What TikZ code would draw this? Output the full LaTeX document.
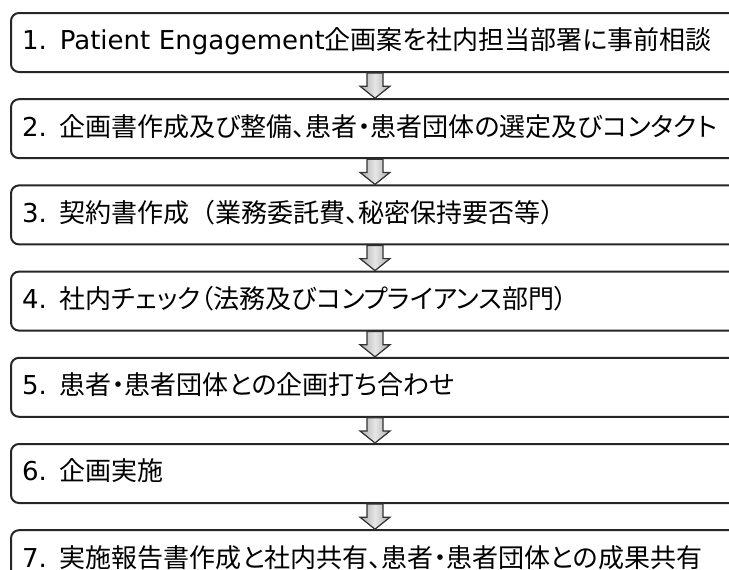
\documentclass[tikz,border=0pt]{standalone}
\usepackage{fontspec}
\setmainfont{DejaVu Sans}
\newfontfamily\jp[RawFeature=+palt]{Noto Sans CJK JP}
\newfontfamily\jpfull{Noto Sans CJK JP}
\usetikzlibrary{positioning,calc}

\begin{document}
\begin{tikzpicture}[
  stage box/.style={draw=black!85, line width=1pt, rounded corners=4pt, anchor=north west,
    minimum height=29.5pt, text width=353pt, inner xsep=5.5pt, inner ysep=0pt, align=left,
    text height=0.9em, text depth=0.17em, font=\fontsize{13pt}{15pt}\selectfont},
  down arrow/.style={draw=black!80, line width=0.6pt, line join=miter,
    left color=gray!65, right color=gray!65, middle color=gray!20}
]
\useasboundingbox (0,0) rectangle (364.5pt,-284.5pt);
\clip (0,0) rectangle (364.5pt,-284.5pt);
\node[stage box] (s1) at (5pt,-6pt) {1. Patient Engagement{\jp 企画案を社内担当部署に事前相談}};
\node[stage box, below=12.6pt of s1] (s2) {2. {\jp 企画書作成及び整備、患者・患者団体の選定及びコンタクト}};
\node[stage box, below=12.6pt of s2] (s3) {3. {\jp 契約書作成{\jpfull （}業務委託費、秘密保持要否等{\jpfull ）}}};
\node[stage box, below=12.6pt of s3] (s4) {4. {\jp 社内チェック（法務及びコンプライアンス部門）}};
\node[stage box, below=12.6pt of s4] (s5) {5. {\jp 患者・患者団体との企画打ち合わせ}};
\node[stage box, below=12.6pt of s5] (s6) {6. {\jp 企画実施}};
\node[stage box, below=12.6pt of s6] (s7) {7. {\jp 実施報告書作成と社内共有、患者・患者団体との成果共有}};
\foreach \a/\b in {s1/s2,s2/s3,s3/s4,s4/s5,s5/s6,s6/s7}
  \draw[down arrow] ($(\a.south)+(-4pt,0)$) -- ($(\a.south)+(-4pt,-6.6pt)$)
    -- ($(\a.south)+(-7.5pt,-6.6pt)$) -- (\b.north) -- ($(\a.south)+(7.5pt,-6.6pt)$)
    -- ($(\a.south)+(4pt,-6.6pt)$) -- ($(\a.south)+(4pt,0)$) -- cycle;
\end{tikzpicture}
\end{document}
